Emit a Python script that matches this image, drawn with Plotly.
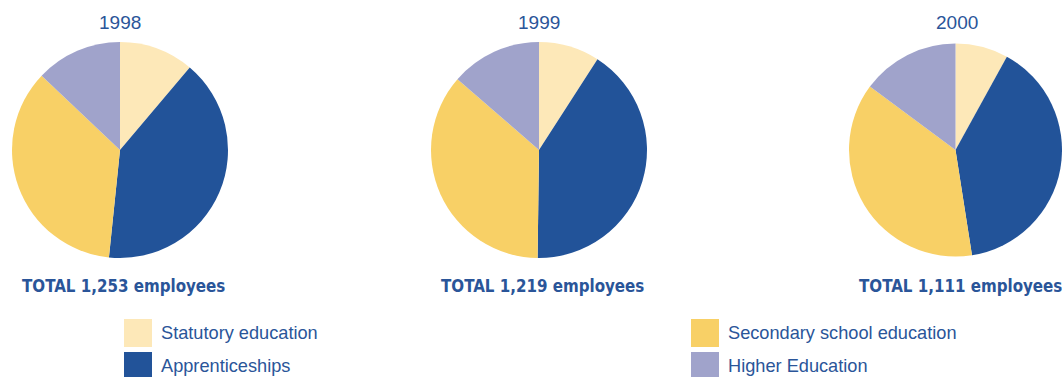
import plotly.graph_objects as go

categories = ["Statutory education", "Apprenticeships", "Secondary school education", "Higher Education"]
years = ["1998", "1999", "2000"]
totals = ["1,253", "1,219", "1,111"]
values_1998 = [140, 507, 444, 162]
values_1999 = [111, 501, 441, 166]
values_2000 = [89, 439, 418, 165]
colors = ["#FDE8B8", "#225399", "#F8D066", "#A0A3CB"]
text_color = "#2A5599"

W, H = 1062, 377
fig = go.Figure()

pie_values = [values_1998, values_1999, values_2000]
centers_x = [120, 539, 957]
center_y = 150
r = 108
for vals, cx in zip(pie_values, centers_x):
    fig.add_trace(go.Pie(
        labels=categories, values=vals, sort=False, direction="clockwise",
        rotation=0, marker=dict(colors=colors, line=dict(width=0)),
        textinfo="none", hoverinfo="label+value+percent", showlegend=False,
        domain=dict(x=[max(cx - r, 0) / W, min((cx + r) / W, 1)],
                    y=[1 - (center_y + r) / H, 1 - (center_y - r) / H]),
    ))

font_main = "Liberation Sans, Arial, sans-serif"
for yr, tot, cx in zip(years, totals, centers_x):
    fig.add_annotation(x=cx / W, y=1 - 23 / H, xref="paper", yref="paper",
                       text=yr, showarrow=False, xanchor="center", yanchor="middle",
                       font=dict(family=font_main, size=19, color=text_color))
    fig.add_annotation(x=(cx + 3) / W, y=1 - 286 / H, xref="paper", yref="paper",
                       text="<b>TOTAL " + tot + " employees</b>", showarrow=False,
                       xanchor="center", yanchor="middle",
                       font=dict(family="DejaVu Sans Condensed, Liberation Sans Narrow, Arial Narrow, sans-serif",
                                 size=16.8, color=text_color))

legend_pos = [(124, 333), (124, 366), (691, 333), (691, 366)]
for cat, col, (lx, ly) in zip(categories, colors, legend_pos):
    fig.add_shape(type="rect", xref="paper", yref="paper",
                  x0=lx / W, x1=(lx + 28) / W, y0=1 - (ly + 14) / H, y1=1 - (ly - 14) / H,
                  fillcolor=col, line=dict(width=0))
    fig.add_annotation(x=(lx + 35) / W, y=1 - ly / H, xref="paper", yref="paper",
                       text=cat, showarrow=False, xanchor="left", yanchor="middle",
                       font=dict(family=font_main, size=18.2, color=text_color))

fig.update_layout(width=W, height=H, margin=dict(l=0, r=0, t=0, b=0),
                  paper_bgcolor="white", plot_bgcolor="white")
fig.write_html("out.html")
